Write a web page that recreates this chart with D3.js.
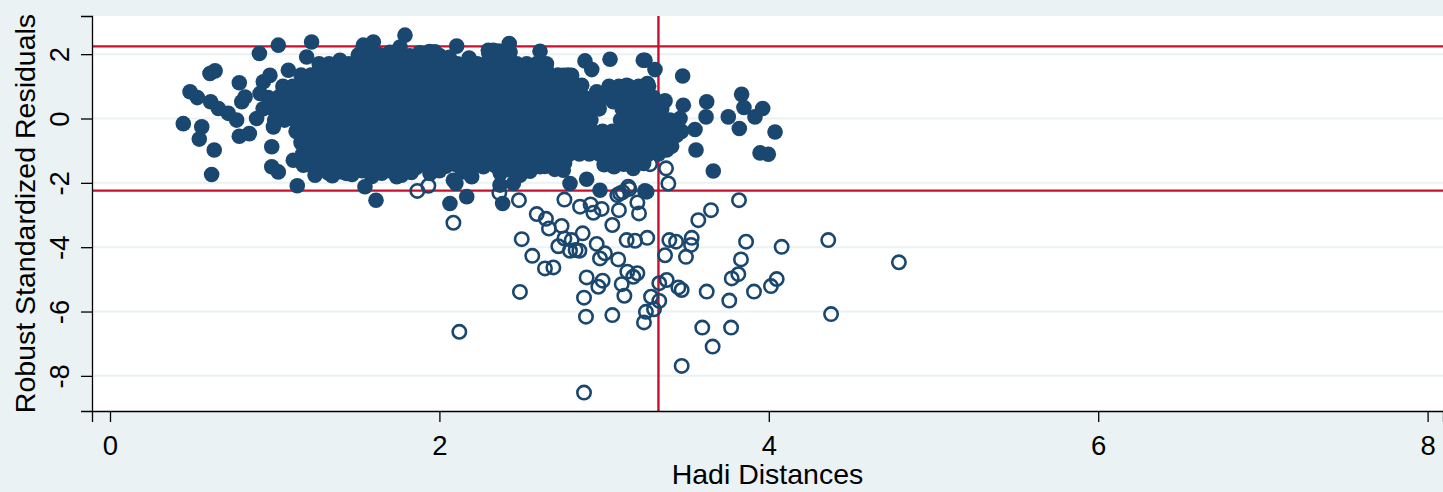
<!DOCTYPE html>
<html>
<head>
<meta charset="utf-8">
<script src="https://cdn.jsdelivr.net/npm/d3@7"></script>
<style>
  html, body { margin: 0; padding: 0; background: #eaf2f3; }
  svg { display: block; }
  text { font-family: "Liberation Sans", Arial, Helvetica, sans-serif; fill: #000; }
</style>
</head>
<body>
<svg id="chart" width="1443" height="492"></svg>
<script>
// ---------- data ----------
const xTicks = [0, 2, 4, 6, 8];
const yTicks = [-8, -6, -4, -2, 0, 2];
const xTitle = "Hadi Distances";
const yTitle = "Robust Standardized Residuals";
const residCutoff = 2.2414;   // horizontal reference lines (+/-)
const distCutoff = 3.33;      // vertical reference line

// filled (non-outlying) observations: dense interior, read row by row
const coreRowY = [1.7, 1.35, 1.0, 0.65, 0.3, -0.05, -0.4, -0.75, -1.1];
const coreRowX = [
  [1.27,1.33,1.39,1.45,1.51,1.57,1.63,1.69,1.75,1.81,1.87,1.93,1.99,2.05,2.11,2.17,2.23,2.29,2.35,2.41,2.47,2.53,2.59,2.65],
  [1.16,1.22,1.28,1.34,1.40,1.46,1.52,1.58,1.64,1.70,1.76,1.82,1.88,1.94,2.00,2.06,2.12,2.18,2.24,2.30,2.36,2.42,2.48,2.54,2.60,2.66,2.72,2.78],
  [1.05,1.11,1.17,1.23,1.29,1.35,1.41,1.47,1.53,1.59,1.65,1.71,1.77,1.83,1.89,1.95,2.01,2.07,2.13,2.19,2.25,2.31,2.37,2.43,2.49,2.55,2.61,2.67,2.73,2.79,2.85,3.03,3.09,3.15,3.21,3.27],
  [0.96,1.02,1.08,1.14,1.20,1.26,1.32,1.38,1.44,1.50,1.56,1.62,1.68,1.74,1.80,1.86,1.92,1.98,2.04,2.10,2.16,2.22,2.28,2.34,2.40,2.46,2.52,2.58,2.64,2.70,2.76,2.82,2.88,2.94,3.00,3.06,3.12,3.18,3.24,3.30],
  [0.93,0.99,1.05,1.11,1.17,1.23,1.29,1.35,1.41,1.47,1.53,1.59,1.65,1.71,1.77,1.83,1.89,1.95,2.01,2.07,2.13,2.19,2.25,2.31,2.37,2.43,2.49,2.55,2.61,2.67,2.73,2.79,2.85,2.91,2.97,3.11,3.17,3.23,3.29,3.35],
  [1.00,1.06,1.12,1.18,1.24,1.30,1.36,1.42,1.48,1.54,1.60,1.66,1.72,1.78,1.84,1.90,1.96,2.02,2.08,2.14,2.20,2.26,2.32,2.38,2.44,2.50,2.56,2.62,2.68,2.74,2.80,2.86,2.92,3.10,3.16,3.22,3.28,3.34,3.40],
  [1.13,1.19,1.25,1.31,1.37,1.43,1.49,1.55,1.61,1.67,1.73,1.79,1.85,1.91,1.97,2.03,2.09,2.15,2.21,2.27,2.33,2.39,2.45,2.51,2.57,2.63,2.69,2.75,2.81,2.87,2.93,2.99,3.05,3.11,3.17,3.23,3.29,3.35,3.41,3.47],
  [1.16,1.22,1.28,1.34,1.40,1.46,1.52,1.58,1.64,1.70,1.76,1.82,1.88,1.94,2.00,2.06,2.12,2.18,2.24,2.30,2.36,2.42,2.48,2.54,2.60,2.66,2.72,2.78,2.84,2.90,2.96,3.02,3.08,3.14,3.20,3.26,3.32,3.38],
  [1.17,1.23,1.29,1.35,1.41,1.47,1.53,1.59,1.65,1.71,1.77,1.83,1.89,1.95,2.01,2.07,2.13,2.19,2.25,2.31,2.37,2.43,2.49,2.55,2.61,2.67,2.73,2.79,2.85,2.91,2.97,3.03,3.09,3.15,3.21,3.27,3.33]
];

// top and bottom layers of the dense cloud [distance, residual]
const cloudTop = [
  [1.52,2.02],[1.58,2.10],[1.64,1.98],[1.70,2.06],[1.76,2.12],[1.82,1.95],[1.88,2.04],[1.94,2.08],
  [2.00,1.96],[2.06,1.90],[2.18,1.88],[2.30,2.02],[2.36,2.10],[2.42,1.94]
];
const cloudBottom = [
  [1.20,-1.42],[1.26,-1.50],[1.32,-1.40],[1.38,-1.48],[1.44,-1.45],[1.50,-1.52],[1.56,-1.44],[1.62,-1.47],
  [1.68,-1.50],[1.74,-1.42],[1.80,-1.46],[1.86,-1.52],[1.92,-1.44],[1.98,-1.40],[2.04,-1.48],[2.10,-1.43],
  [2.16,-1.50],[2.22,-1.45],[2.28,-1.40],[2.34,-1.47],[2.40,-1.52],[2.46,-1.44],[2.52,-1.46],[2.58,-1.41],
  [2.64,-1.49],[2.70,-1.43],[2.76,-1.38],[3.00,-1.44],[3.06,-1.50],[3.12,-1.42],[3.18,-1.47],[3.24,-1.40],
  [1.35,-1.78],[1.41,-1.66],[1.47,-1.74],[1.53,-1.62],[1.59,-1.80],[1.65,-1.70],[1.71,-1.64],[1.77,-1.76],
  [1.83,-1.68],[2.00,-1.62],[2.14,-1.66],[2.37,-1.70],[2.43,-1.60],[2.49,-1.76],[2.55,-1.64],[2.70,-1.58]
];

// filled observations on the edges of the cloud [distance, residual]
const filledOuter = [
  [0.445,-0.16],[0.486,0.83],[0.53,0.65],[0.557,-0.26],[0.542,-0.64],[0.633,-0.98],[0.617,-1.74],
  [0.607,1.40],[0.638,1.48],[0.611,0.52],[0.658,0.31],[0.718,0.16],[0.785,1.11],[0.80,0.52],
  [0.82,0.67],[0.769,-0.05],[0.785,-0.55],[0.846,-0.47],[0.89,0.0],[0.907,2.02],[1.022,2.28],
  [1.224,2.38],[1.194,1.91],[0.931,1.14],[0.971,1.34],[0.911,0.78],[1.083,1.50],[0.982,-0.88],
  [0.982,-1.50],[1.022,-1.66],[1.137,-2.09],[1.245,-1.76],[1.326,-1.69],[1.113,-1.30],[1.174,-1.45],
  [0.992,-0.26],[1.032,0.36],[1.113,0.67],[1.224,1.19],[1.275,1.55],[1.052,0.88],
  [1.538,2.28],[1.599,2.38],[1.791,2.59],[1.761,2.22],[1.70,2.02],[1.396,1.81],[1.508,1.97],
  [2.105,2.25],[1.973,2.07],[1.882,1.91],[2.297,2.12],
  [1.356,-1.66],[1.437,-1.71],[1.548,-2.12],[1.615,-2.54],[1.741,-1.81],[1.943,-1.71],[2.085,-1.92],
  [2.064,-2.64],[2.166,-2.43],[2.196,-1.81],[2.267,-1.50],[2.10,-2.02],
  [2.327,2.12],[2.424,2.33],[2.429,2.07],[2.611,2.09],[2.884,1.79],[2.925,1.52],[3.036,1.84],
  [3.238,1.81],[2.752,1.34],[2.803,1.34],[2.864,1.03],[2.509,1.40],[2.57,1.50],[2.651,1.50],
  [2.287,1.71],[3.137,1.03],[3.056,0.52],[2.955,0.83],[2.823,0.62],[3.238,0.67],[3.197,0.26],
  [2.327,-1.40],[2.489,-1.50],[2.611,-1.50],[2.752,-1.61],[2.682,-1.40],[2.793,-2.02],[2.894,-1.89],
  [2.368,-2.07],[2.449,-2.02],[2.384,-2.64],[3.046,-1.35],[3.177,-1.55],[3.238,-1.30],[2.975,-2.23],
  [3.248,-2.25],[2.854,-0.78],[3.016,-1.04],
  [3.248,1.81],[3.309,1.52],[3.263,1.09],[3.477,1.32],[3.37,0.55],[3.481,0.41],[3.461,0.0],
  [3.623,0.52],[3.619,0.05],[3.552,-0.34],[3.441,-0.52],[3.41,-0.86],[3.38,-0.98],[3.558,-0.98],
  [3.663,-1.63],[3.754,0.05],[3.835,0.75],[3.849,0.34],[3.821,-0.31],[3.916,0.05],[3.963,0.31],
  [4.038,-0.42],[3.947,-1.07],[3.997,-1.11],[3.259,-2.28]
];

// hollow (outlying) observations [distance, residual]
const hollowPts = [
  [1.866,-2.25],[1.933,-2.09],[2.364,-2.31],[2.483,-2.54],[2.759,-2.52],[2.854,-2.74],[2.918,-2.67],
  [2.935,-2.93],[2.985,-2.81],[3.09,-2.85],[3.08,-2.38],[3.113,-2.29],[3.153,-2.19],[3.202,-2.61],
  [3.212,-2.95],[3.05,-3.31],[2.591,-2.97],[2.647,-3.12],[2.665,-3.42],[2.742,-3.34],[2.759,-3.73],
  [2.803,-3.78],[2.87,-3.57],[2.722,-3.97],[2.793,-4.11],[2.827,-4.09],[2.85,-4.11],[2.955,-3.9],
  [3.005,-4.19],[2.975,-4.35],[3.086,-4.38],[2.5,-3.75],[2.564,-4.27],[2.641,-4.66],[2.692,-4.63],
  [2.489,-5.39],[2.085,-3.24],[2.121,-6.63],[2.878,-8.52],[2.894,-4.94],[2.991,-5.04],[2.965,-5.23],
  [2.878,-5.57],[2.89,-6.16],[3.05,-6.11],[3.107,-5.15],[3.141,-4.76],[3.177,-4.92],[3.202,-4.81],
  [3.123,-5.51],[3.137,-3.78],[3.188,-3.8],[3.262,-3.71],[3.242,-6.34],[3.254,-6.01],[3.303,-5.93],
  [3.285,-5.54],[3.335,-5.67],[3.335,-5.12],[3.38,-5.02],[3.451,-5.25],[3.471,-5.33],[3.471,-7.69],
  [3.37,-4.25],[3.396,-3.78],[3.437,-3.83],[3.532,-3.71],[3.528,-3.93],[3.497,-4.3],[3.572,-3.16],
  [3.649,-2.85],[3.819,-2.54],[3.862,-3.83],[3.831,-4.38],[3.815,-4.84],[3.775,-4.97],[3.76,-5.66],
  [3.623,-5.38],[3.596,-6.5],[3.659,-7.09],[3.771,-6.5],[3.91,-5.38],[4.013,-5.21],[4.048,-4.99],
  [4.078,-3.99],[4.361,-3.78],[4.378,-6.08],[4.79,-4.47],[3.39,-2.02],[3.376,-1.55],[3.279,-1.42],
  [3.086,-1.19],[3.147,-2.12],[3.097,-2.33]
];

// ---------- drawing ----------
const W = 1443, H = 492;
const plot = { left: 92, right: 1443, top: 16, bottom: 411 };
const colors = { bg: "#eaf2f3", plot: "#ffffff", grid: "#eaf2f3", marker: "#1a476f", ref: "#c8102e" };

const x = d3.scaleLinear().domain([-0.1093, 8.0935]).range([plot.left, plot.right]);
const y = d3.scaleLinear().domain([-9.092, 3.186]).range([plot.bottom, plot.top]);

const svg = d3.select("#chart");
svg.append("rect").attr("width", W).attr("height", H).attr("fill", colors.bg);
svg.append("rect")
  .attr("x", plot.left).attr("y", plot.top)
  .attr("width", plot.right - plot.left).attr("height", plot.bottom - plot.top)
  .attr("fill", colors.plot);

// gridlines
svg.append("g").selectAll("line").data(yTicks).join("line")
  .attr("x1", plot.left).attr("x2", plot.right)
  .attr("y1", d => y(d)).attr("y2", d => y(d))
  .attr("stroke", colors.grid).attr("stroke-width", 2);

// reference lines
const ref = svg.append("g");
[residCutoff, -residCutoff].forEach(v => {
  ref.append("line")
    .attr("x1", plot.left).attr("x2", plot.right)
    .attr("y1", y(v)).attr("y2", y(v))
    .attr("stroke", colors.ref).attr("stroke-width", 2.4);
});
ref.append("line")
  .attr("x1", x(distCutoff)).attr("x2", x(distCutoff))
  .attr("y1", plot.top).attr("y2", plot.bottom)
  .attr("stroke", colors.ref).attr("stroke-width", 2.4);

// markers
const filledPts = [];
coreRowY.forEach((yy, i) => coreRowX[i].forEach(xx => filledPts.push([xx, yy])));
cloudTop.forEach(p => filledPts.push(p));
cloudBottom.forEach(p => filledPts.push(p));
filledOuter.forEach(p => filledPts.push(p));

svg.append("g").selectAll("circle").data(filledPts).join("circle")
  .attr("cx", d => x(d[0])).attr("cy", d => y(d[1]))
  .attr("r", 7.8).attr("fill", colors.marker);

svg.append("g").selectAll("circle").data(hollowPts).join("circle")
  .attr("cx", d => x(d[0])).attr("cy", d => y(d[1]))
  .attr("r", 6.7).attr("fill", "none")
  .attr("stroke", colors.marker).attr("stroke-width", 2.6);

// axes
const tickFont = 27.5, titleFont = 28.5;
const fmt = d => String(d);
const xAxis = svg.append("g").attr("transform", `translate(0,${plot.bottom})`)
  .call(d3.axisBottom(x).tickValues(xTicks).tickSize(11).tickFormat(fmt));
xAxis.select(".domain").attr("stroke", "#000").attr("stroke-width", 1.3);
xAxis.selectAll(".tick line").attr("stroke", "#000").attr("stroke-width", 1.3);
xAxis.selectAll(".tick text").attr("font-size", tickFont)
  .attr("font-family", '"Liberation Sans", Arial, sans-serif')
  .attr("dy", null).attr("y", 43.5);

const yAxis = svg.append("g").attr("transform", `translate(${plot.left},0)`)
  .call(d3.axisLeft(y).tickValues(yTicks).tickSize(11).tickFormat(fmt));
yAxis.select(".domain").attr("stroke", "#000").attr("stroke-width", 1.3);
yAxis.selectAll(".tick line").attr("stroke", "#000").attr("stroke-width", 1.3);
yAxis.selectAll(".tick text")
  .attr("font-size", tickFont)
  .attr("font-family", '"Liberation Sans", Arial, sans-serif')
  .attr("x", null).attr("dy", null)
  .attr("text-anchor", "middle")
  .attr("transform", "translate(-23.5,0) rotate(-90)");

// titles
svg.append("text")
  .attr("x", (plot.left + plot.right) / 2).attr("y", 484)
  .attr("text-anchor", "middle").attr("font-size", titleFont)
  .text(xTitle);
svg.append("text")
  .attr("transform", `translate(35,${(plot.top + plot.bottom) / 2}) rotate(-90)`)
  .attr("text-anchor", "middle").attr("font-size", titleFont)
  .text(yTitle);
</script>
</body>
</html>
